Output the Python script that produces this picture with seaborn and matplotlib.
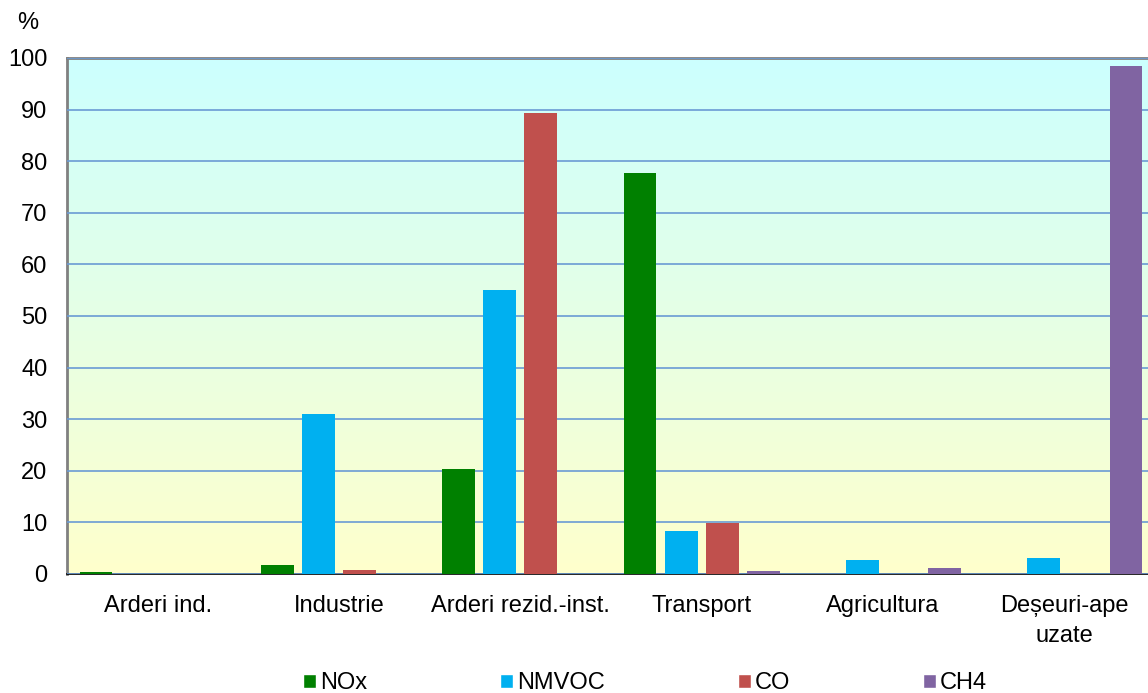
import matplotlib
matplotlib.use("Agg")
import matplotlib.pyplot as plt
import numpy as np
import pandas as pd
import seaborn as sns
from matplotlib.colors import LinearSegmentedColormap
from matplotlib.patches import Patch

# data
categories = ["Arderi ind.", "Industrie", "Arderi rezid.-inst.", "Transport",
              "Agricultura", "Deșeuri-ape\nuzate"]
series = ["NOx", "NMVOC", "CO", "CH4"]
nox = [0.3, 1.7, 20.3, 77.7, 0.0, 0.0]
nmvoc = [0.0, 31.0, 55.0, 8.3, 2.7, 3.1]
co = [0.0, 0.7, 89.3, 9.8, 0.0, 0.0]
ch4 = [0.0, 0.0, 0.0, 0.5, 1.1, 98.4]
colors = ["#008000", "#00B0F0", "#C0504D", "#8064A2"]

df = pd.DataFrame({"cat": categories * 4,
                   "gas": np.repeat(series, len(categories)),
                   "val": nox + nmvoc + co + ch4})

sns.set_theme(style="white")
plt.rcParams["font.family"] = ["Liberation Sans", "DejaVu Sans"]
plt.rcParams["text.color"] = "black"
plt.rcParams["xtick.color"] = "black"
plt.rcParams["ytick.color"] = "black"
plt.rcParams["xtick.labelcolor"] = "black"
plt.rcParams["ytick.labelcolor"] = "black"

fig = plt.figure(figsize=(11.48, 6.93), dpi=100)
ax = fig.add_axes([67 / 1148, 1 - 574 / 693, 1088 / 1148, 516 / 693])

sns.barplot(data=df, x="cat", y="val", hue="gas", order=categories, hue_order=series,
            palette=colors, width=0.906, gap=0.2, saturation=1, errorbar=None,
            ax=ax, zorder=3, legend=False, linewidth=0)

# gradient background
cmap = LinearSegmentedColormap.from_list("bg", ["#FFFFCC", "#CCFFFF"])
grad = np.linspace(0, 1, 256).reshape(-1, 1)
ax.imshow(grad, cmap=cmap, origin="lower", aspect="auto",
          extent=[-0.5, len(categories) - 0.5, 0, 100], zorder=0)

ax.set_xlim(-0.5, len(categories) - 0.5)
ax.set_ylim(0, 100)
ax.set_yticks(np.arange(0, 101, 10))
ax.yaxis.grid(True, color="#6A9BD4", linewidth=1.2, zorder=1)
ax.set_axisbelow(False)
for line in ax.get_ygridlines():
    line.set_zorder(1)
ax.tick_params(axis="y", length=0, labelsize=17, pad=14)
ax.tick_params(axis="x", which="major", length=0, labelsize=17, pad=15)
for lab in ax.get_xticklabels():
    lab.set_linespacing(1.5)
ax.set_xticks(np.arange(-0.5, len(categories)), minor=True)
ax.tick_params(axis="x", which="minor", length=8, width=1, color="black", direction="out")
ax.set_xlabel("")
ax.set_ylabel("")

ax.spines["left"].set_color("#808080")
ax.spines["left"].set_linewidth(2)
ax.spines["top"].set_color("#808080")
ax.spines["top"].set_linewidth(2)
ax.spines["bottom"].set_color("black")
ax.spines["bottom"].set_linewidth(1.2)
ax.spines["right"].set_visible(False)

fig.text(28 / 1148, 1 - 23 / 693, "%", fontsize=17, ha="center", va="center")

handles = [Patch(facecolor=c, label=s) for c, s in zip(colors, series)]
fig.legend(handles=handles, loc="center", bbox_to_anchor=(0.562, 1 - 683 / 693),
           ncol=4, frameon=False, fontsize=17, handlelength=0.55, handleheight=0.55,
           handletextpad=0.15, columnspacing=5.65, borderpad=0)

fig.savefig("out.png", dpi=100)
